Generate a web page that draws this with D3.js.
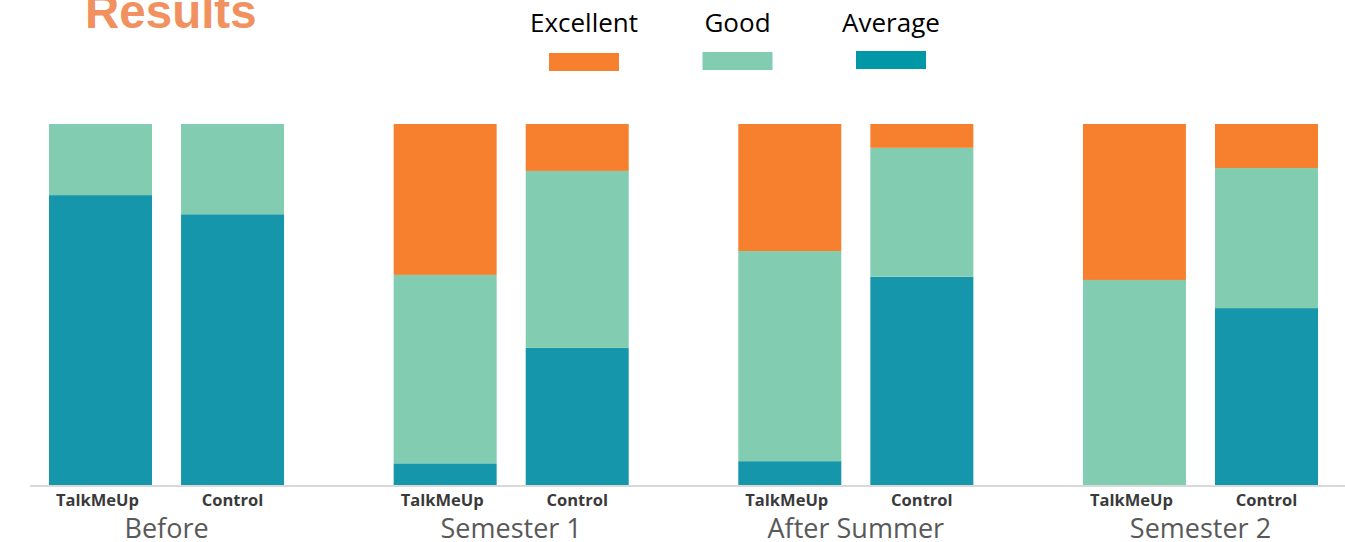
<!DOCTYPE html>
<html>
<head>
<meta charset="utf-8">
<script src="https://cdn.jsdelivr.net/npm/d3@7"></script>
<style>
  body { margin: 0; background: #fff; }
  svg { display: block; }
</style>
</head>
<body>
<script>
//Data
    const groups = ["Before", "Semester 1", "After Summer", "Semester 2"];
    const categories = ["TalkMeUp", "Control"];
    const levels = ["Excellent", "Good", "Average"];
    // one value per bar, in group order (TalkMeUp, Control)
    const excellent = [0, 0, 41.8, 13.0, 35.2, 6.6, 43.2, 12.2];
    const good = [19.7, 25.0, 52.2, 49.0, 58.2, 35.7, 56.8, 38.8];
    const average = [80.3, 75.0, 6.0, 38.0, 6.6, 57.7, 0, 49.0];

//Set up dimensions
    const width = 1345;
    const height = 542;
    const baseY = 485;
    const topY = 124;

    const colors = {Excellent: "#F7802F", Good: "#82CCB2", Average: "#1596AA"};
    const legendColors = {Excellent: "#F7802F", Good: "#82CCB2", Average: "#0097A7"};

//Build rows
    const rows = [];
    groups.forEach((g, i) => {
        categories.forEach((c, j) => {
            const k = i * 2 + j;
            rows.push({group: g, cat: c, Excellent: excellent[k], Good: good[k], Average: average[k]});
        });
    });

    const stack = d3.stack().keys(["Average", "Good", "Excellent"]);
    const series = stack(rows);

//Scales
    const xGroup = d3.scaleBand()
                     .domain(groups)
                     .range([49, 1318])
                     .paddingInner(0.318);

    const xCat = d3.scaleBand()
                   .domain(categories)
                   .range([0, xGroup.bandwidth()])
                   .paddingInner(0.22);

    const yScale = d3.scaleLinear()
                     .domain([0, 100])
                     .range([baseY, topY]);

//SVG
    const svg = d3.select("body")
                  .append("svg")
                  .attr("width", width)
                  .attr("height", height);

//Title
    svg.append("text")
       .attr("x", 85)
       .attr("y", 28)
       .attr("font-family", "Liberation Sans, Arial, sans-serif")
       .attr("font-weight", "bold")
       .attr("font-size", 47.5)
       .attr("fill", "#F0915F")
       .text("Results");

//Axis line
    svg.append("line")
       .attr("x1", 30)
       .attr("x2", width)
       .attr("y1", baseY + 1)
       .attr("y2", baseY + 1)
       .attr("stroke", "#d9d9d9")
       .attr("stroke-width", 2);

//Bars
    svg.selectAll("g.layer")
       .data(series)
       .enter()
       .append("g")
       .attr("class", "layer")
       .attr("fill", d => colors[d.key])
       .selectAll("rect")
       .data(d => d)
       .enter()
       .append("rect")
       .attr("x", d => xGroup(d.data.group) + xCat(d.data.cat))
       .attr("y", d => yScale(d[1]))
       .attr("width", xCat.bandwidth())
       .attr("height", d => yScale(d[0]) - yScale(d[1]));

//Category labels
    svg.selectAll("text.cat")
       .data(rows)
       .enter()
       .append("text")
       .attr("class", "cat")
       .attr("x", d => xGroup(d.group) + xCat(d.cat) + xCat.bandwidth() / 2 - (d.cat === "TalkMeUp" ? 3 : 0))
       .attr("y", 506)
       .attr("text-anchor", "middle")
       .attr("font-family", "Open Sans, sans-serif")
       .attr("font-weight", "bold")
       .attr("font-size", 16.5)
       .attr("fill", "#3a3a3a")
       .text(d => d.cat);

//Group labels
    svg.selectAll("text.grp")
       .data(groups)
       .enter()
       .append("text")
       .attr("class", "grp")
       .attr("x", d => xGroup(d) + xGroup.bandwidth() / 2)
       .attr("y", 538)
       .attr("text-anchor", "middle")
       .attr("font-family", "Open Sans, sans-serif")
       .attr("font-size", 27)
       .attr("fill", "#595959")
       .text(d => d);

//Legend
    const legendX = d3.scalePoint()
                      .domain(levels)
                      .range([584, 891]);

    const legend = svg.selectAll("g.legend")
                      .data(levels)
                      .enter()
                      .append("g")
                      .attr("class", "legend")
                      .attr("transform", d => "translate(" + legendX(d) + ",0)");

    legend.append("text")
          .attr("y", 32)
          .attr("text-anchor", "middle")
          .attr("font-family", "Open Sans, sans-serif")
          .attr("font-size", 26)
          .attr("fill", "#000")
          .text(d => d);

    legend.append("rect")
          .attr("x", -35)
          .attr("y", (d, i) => 53 - i)
          .attr("width", 70)
          .attr("height", 18)
          .attr("fill", d => legendColors[d]);
</script>
</body>
</html>
